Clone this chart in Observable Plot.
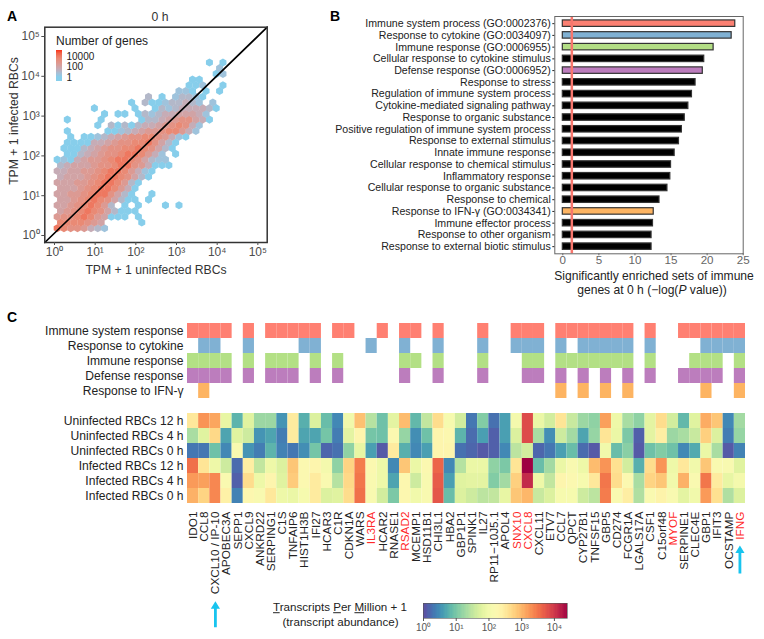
<!DOCTYPE html>
<html><head><meta charset="utf-8">
<script src="https://cdn.jsdelivr.net/npm/d3@7"></script>
<script src="https://cdn.jsdelivr.net/npm/@observablehq/plot@0.6"></script>
<style>
html,body{margin:0;padding:0;background:#fff}
#page{position:relative;width:764px;height:639px;overflow:hidden;font-family:"Liberation Sans",Arial,sans-serif}
.t{position:absolute;white-space:nowrap;line-height:1;color:#222}
</style></head><body><div id="page"></div>
<script>
/* ---------- Panel A: hexagonal bins, one string per hex row (bottom to top).
   Each character is a column; the digit is the colour level, 2 levels = 1 decade of genes. */
const hexRows = [
"87665321",
"7777654.....0",
"56678754000.0",
"456787642000",
"445678752.0.0...0.0",
"445678764200.0",
"445567886420..0",
"444567887530",
"4445567887520",
"34445678876420",
"334455678875310",
"23444566788653000",
"01034556788764211",
".002345667887531.0",
".00023456677876420",
".00003345667786420",
"..0.0012345667765310",
".0.....00123455677531",
"......0.20202334567631",
".0....0.....02234566430",
".......0.00.02123344431",
".....0.....0..0212333320",
"...........0.200122321.1",
".............2.0.12210",
"..................110.0.0",
"...................001..0",
"....................00",
".......................01",
"........................1",
"......................0.0"
];
const hexFirstX = 0.0656, hexStepX = 0.1664, hexFirstY = 0.184, hexStepY = 0.1436;
const hexColorLevels = [0,1,3,5,7,9,10];
const hexColorStops = ["#87CEEB","#9FC3DC","#C6ACB6","#DC9A93","#E98A75","#F2654A","#F83A20"];
const countTicks = [["10000",4],["100",2],["1",0]];
const decades = [1,10,100,1000,10000,100000];
const sup = ["⁰","¹","²","³","⁴","⁵"];
const decadeLabel = d => "10" + sup[Math.round(Math.log10(d))];

/* ---------- Panel B ---------- */
const setNames = ["Immune system process (GO:0002376)","Response to cytokine (GO:0034097)","Immune response (GO:0006955)","Cellular response to cytokine stimulus","Defense response (GO:0006952)","Response to stress","Regulation of immune system process","Cytokine-mediated signaling pathway","Response to organic substance","Positive regulation of immune system process","Response to external stimulus","Innate immune response","Cellular response to chemical stimulus","Inflammatory response","Cellular response to organic substance","Response to chemical","Response to IFN-γ (GO:0034341)","Immune effector process","Response to other organism","Response to external biotic stimulus"];
const setValues = [23.9,23.4,20.9,19.6,19.4,18.4,17.9,17.4,16.9,16.5,16.1,15.5,15.0,14.9,14.5,13.4,12.6,12.5,12.3,12.3];
const setFills = ["#FB8072","#80B1D3","#B3DE85","#000","#BC7DBD","#000","#000","#000","#000","#000","#000","#000","#000","#000","#000","#000","#FDB462","#000","#000","#000"];
const threshold = 1.25;

/* ---------- Panel C ---------- */
const genes = ["IDO1","CCL8","CXCL10 / IP-10","APOBEC3A","SEPP1","CXCL9","ANKRD22","SERPING1","C1S","TNFAIP6","HIST1H3B","IFI27","HCAR3","C1R","CDKN1A","WARS","IL3RA","HCAR2","RNASE1","RSAD2","MCEMP1","HSD11B1","CHI3L1","HBA2","GBP1P1","SPINK1","IL27","RP11−10J5.1","APOL4","SNX10","CXCL8","CXCL11","ETV7","CCL7","QPCT","CYP27B1","TNFSF15","GBP5","CD274","FCGR1A","LGALS17A","CSF1","C15orf48","MYOF","SERPINE1","CLEC4E","GBP1","IFIT3","OCSTAMP","IFNG"];
const redGenes = ["IL3RA","RSAD2","SNX10","CXCL8","MYOF","IFNG"];
const arrowGenes = ["CXCL10 / IP-10","IFNG"];
const annotNames = ["Immune system response","Response to cytokine","Immune response","Defense response","Response to IFN-γ"];
const annotFills = ["#FF8072","#80B1D3","#B3E085","#BC7DBD","#FDB462"];
const annotImmuneSystem = [0,1,2,3,5,7,8,9,10,11,13,14,17,19,20,22,26,29,30,31,33,34,35,36,37,38,39,41,44,45,46,47,48,49];
const annotCytokine = [1,2,5,10,11,16,19,22,26,29,30,31,33,35,36,37,38,39,41,46,47,48,49];
const annotImmune = [0,1,2,3,5,7,8,9,11,13,19,20,22,26,30,31,33,34,35,36,37,38,39,41,45,46,47,49];
const annotDefense = [0,1,2,3,5,7,8,9,11,13,19,22,26,30,31,33,35,37,39,41,44,45,46,47,49];
const annotIFN = [1,33,35,37,39,46,49];
const annotMembers = [annotImmuneSystem,annotCytokine,annotImmune,annotDefense,annotIFN];

const heatNames = ["Uninfected RBCs 12 h","Uninfected RBCs 4 h","Uninfected RBCs 0 h","Infected RBCs 12 h","Infected RBCs 4 h","Infected RBCs 0 h"];
/* abundance read as tenths along the colour bar (0 = 10^0, 10 = 10^4.4) */
const uninf12 = [5.7,7.4,7.1,4.2,1.8,4.0,2.8,2.8,1.2,5.6,1.7,3.9,2.0,1.0,4.5,6.6,3.2,2.1,4.1,6.7,1.9,3.4,6.0,4.7,3.7,0.7,2.4,0.6,1.4,4.6,8.7,4.3,3.7,5.8,3.5,2.8,2.6,7.2,4.4,3.0,2.6,4.1,6.0,3.7,1.9,4.0,7.0,6.5,1.0,2.9];
const uninf4 = [3.0,4.0,6.1,1.5,4.0,3.6,1.2,1.5,0.8,5.6,1.5,1.5,2.2,0.8,4.1,5.2,2.2,2.1,5.0,2.7,1.1,2.1,5.2,5.1,1.8,0.5,1.4,0.3,1.4,3.9,8.7,3.0,1.1,3.6,2.9,1.5,2.7,5.8,4.3,2.3,0.3,4.1,5.5,2.8,3.0,3.5,6.3,3.9,0.8,2.7];
const uninf0 = [0.7,0.7,2.1,1.0,4.8,1.2,0.8,1.8,0.9,0.7,1.1,2.2,0.4,0.6,2.6,4.2,1.4,0.2,5.6,1.7,1.0,1.4,5.2,5.2,0.6,0.4,0.2,0.3,1.0,3.3,3.7,0.4,0.7,1.4,2.0,0.5,0.2,4.5,2.0,2.5,0.2,2.1,2.4,2.1,1.0,1.6,4.3,3.0,0.2,0.9];
const inf12 = [8.0,5.8,4.4,3.6,0.5,5.5,3.4,4.4,3.9,6.5,5.0,5.2,4.6,2.6,6.2,7.8,5.0,4.4,1.0,6.5,4.3,5.0,8.2,1.0,3.2,4.3,4.3,2.6,2.3,5.8,10,2.0,2.9,4.3,4.8,4.4,6.7,7.4,5.9,3.7,1.7,6.0,7.4,4.4,5.7,4.5,6.5,4.9,4.8,4.0];
const inf4 = [7.3,7.2,7.6,4.9,0.3,6.0,4.4,5.2,4.0,6.4,5.0,5.6,4.9,3.2,6.1,7.9,4.9,4.4,1.5,5.1,3.6,4.8,8.4,1.4,4.0,4.1,4.1,2.4,2.9,6.3,9.3,4.4,3.4,5.2,5.0,4.7,5.7,7.9,6.0,5.0,3.0,6.2,6.5,4.5,6.9,4.9,7.9,5.6,4.2,4.6];
const inf0 = [6.9,6.2,7.6,5.4,0.9,5.1,4.8,5.7,4.4,4.3,4.7,5.6,3.9,4.0,6.0,8.0,4.8,3.7,2.3,5.1,4.5,4.8,8.5,2.0,3.9,3.6,3.3,3.4,4.2,6.5,6.8,3.5,3.9,4.7,4.7,3.6,3.3,7.8,4.9,5.5,3.1,4.9,5.3,4.8,4.1,4.5,7.3,5.9,3.1,3.9];
const heatSeries = [uninf12,uninf4,uninf0,inf12,inf4,inf0];

/* ---------- helpers ---------- */
const page = document.getElementById("page");
const FONT = '"Liberation Sans",Arial,sans-serif';
function place(svg,left,top){
  svg.style.position="absolute"; svg.style.left=left+"px"; svg.style.top=top+"px";
  svg.style.background="transparent"; svg.style.maxWidth="none";
  page.appendChild(svg); return svg;
}
function label(html,cx,cy,size,opts={}){
  const d=document.createElement("div"); d.className="t"; d.innerHTML=html;
  d.style.fontSize=size+"px"; d.style.left=cx+"px"; d.style.top=cy+"px";
  const a=opts.anchor||"center";
  const tx=a==="center"?"-50%":a==="start"?"0":"-100%";
  d.style.transform=`translate(${tx},-50%)`+(opts.rotate?` rotate(${opts.rotate}deg)`:"");
  if(opts.color)d.style.color=opts.color;
  if(opts.weight)d.style.fontWeight=opts.weight;
  page.appendChild(d); return d;
}

/* ---------- Panel A ---------- */
const hexCells=[];
hexRows.forEach((row,j)=>{ [...row].forEach((c,i)=>{ if(c==="."||c===" ")return;
  hexCells.push({x:10**(hexFirstX+hexStepX*(i+(j%2)/2)), y:10**(hexFirstY+hexStepY*j), level:+c}); }); });
const axDomain=[10**-0.2385,10**5.23], ayDomain=[10**-0.176,10**5.234];
const hexColor={type:"linear",domain:hexColorLevels,range:hexColorStops,interpolate:"rgb"};
place(Plot.plot({
  width:290,height:290,marginLeft:44.3,marginRight:23.3,marginTop:26.7,marginBottom:48,
  style:{fontFamily:FONT},
  x:{type:"log",domain:axDomain},y:{type:"log",domain:ayDomain},
  color:hexColor,
  marks:[
    Plot.dot(hexCells,{x:"x",y:"y",fill:"level",symbol:"hexagon",r:3.5}),
    Plot.line([[axDomain[0],ayDomain[0]],[axDomain[1],ayDomain[1]]],{x:d=>d[0],y:d=>d[1],stroke:"#000",strokeWidth:1.7}),
    Plot.frame({stroke:"#333",strokeWidth:1.5}),
    Plot.axisX({ticks:decades,tickFormat:decadeLabel,tickSize:3,tickPadding:2,fontSize:12,color:"#4d4d4d",label:null}),
    Plot.axisY({ticks:decades,tickFormat:decadeLabel,tickSize:3,tickPadding:2,fontSize:12,color:"#4d4d4d",label:null})
  ]
}),0,0);
/* count legend inside A */
const legendSteps=d3.range(-0.76,5.14,0.06);
place(Plot.plot({
  width:50,height:40,marginLeft:6,marginRight:38,marginTop:4,marginBottom:5,
  style:{fontFamily:FONT},
  x:{domain:[0,1],axis:null},y:{domain:[-0.76,5.14],axis:null},
  color:{...hexColor,clamp:true},
  marks:[
    Plot.rect(legendSteps,{x1:0,x2:1,y1:d=>d,y2:d=>d+0.07,fill:d=>d*2,shapeRendering:"crispEdges"}),
    Plot.text(countTicks,{x:1,y:d=>d[1],text:d=>d[0],dx:4,textAnchor:"start",fontSize:10,fill:"#222"})
  ]
}),50,46);
label("Number of genes",56,41,12,{anchor:"start"});
label("0 h",160,17,12.2,{color:"#333"});
label("TPM + 1 uninfected RBCs",156,270,12.2,{color:"#333"});
label("TPM + 1 infected RBCs",14,120.5,12.2,{color:"#333",rotate:-90});
label("A",7,16,14,{anchor:"start",weight:"bold",color:"#000"});

/* ---------- Panel B ---------- */
const setTable=setNames.map((name,i)=>({name,value:setValues[i],fill:setFills[i]}));
place(Plot.plot({
  width:444,height:300,marginLeft:234.3,marginRight:21.3,marginTop:16,marginBottom:46.7,
  style:{fontFamily:FONT},
  x:{domain:[-1.11,25]},
  y:{domain:setNames,paddingInner:0.45,paddingOuter:0.335,round:false},
  marks:[
    Plot.barX(setTable,{x:"value",y:"name",fill:"fill",stroke:"#333",strokeWidth:1.2}),
    Plot.ruleX([threshold],{stroke:"#F8766D",strokeWidth:2.5}),
    Plot.frame({stroke:"#666",strokeWidth:1}),
    Plot.axisX({ticks:[0,5,10,15,20,25],tickSize:2,tickPadding:0,fontSize:11.6,color:"#666",label:null}),
    Plot.axisY({tickSize:2,tickPadding:2,fontSize:10.6,color:"#222",label:null})
  ]
}),320,0);
label("Significantly enriched sets of immune",654,276,12.1);
label("genes at 0 h (−log(<i>P</i> value))",652,290,12.1);
label("B",330,15.5,14,{anchor:"start",weight:"bold",color:"#000"});

/* ---------- Panel C ---------- */
const spacer=" ";
const rowDomain=[...annotNames,spacer,...heatNames];
const annotCells=annotMembers.flatMap((m,r)=>m.map(c=>({gene:genes[c],row:annotNames[r],fill:annotFills[r]})));
const heatCells=heatSeries.flatMap((s,r)=>s.map((v,c)=>({gene:genes[c],row:heatNames[r],log:v*0.44})));
const spectral={type:"linear",scheme:"Spectral",reverse:true,domain:[0,4.4]};
const arrowShape={draw(c,l){const w=1.4,hw=4.6,hl=7.5;
  c.moveTo(-w,0);c.lineTo(w,0);c.lineTo(w,hl-l);c.lineTo(hw,hl-l);c.lineTo(0,-l);c.lineTo(-hw,hl-l);c.lineTo(-w,hl-l);c.closePath();}};
place(Plot.plot({
  width:764,height:334,marginLeft:187,marginRight:19,marginTop:18,marginBottom:136,
  style:{fontFamily:FONT},
  x:{type:"band",domain:genes,padding:0,axis:null,round:false},
  y:{type:"band",domain:rowDomain,padding:0,round:false},
  color:spectral,
  marks:[
    Plot.cell(annotCells,{x:"gene",y:"row",fill:d=>d.fill}),
    Plot.cell(heatCells,{x:"gene",y:"row",fill:"log"}),
    Plot.axisY({tickSize:0,tickPadding:4,fontSize:12.1,color:"#222",label:null}),
    Plot.text(genes,{x:d=>d,frameAnchor:"bottom",dy:8,rotate:-90,textAnchor:"end",lineAnchor:"middle",fontSize:11.8,
      fill:d=>redGenes.includes(d)?"#FF2A2A":"#222"}),
    Plot.vector([arrowGenes[0]],{x:d=>d,frameAnchor:"bottom",dy:123.7,length:26,rotate:0,anchor:"start",shape:arrowShape,fill:"#18C4EF",stroke:"none"}),
    Plot.vector([arrowGenes[1]],{x:d=>d,frameAnchor:"bottom",dy:70,length:28,rotate:0,anchor:"start",shape:arrowShape,fill:"#18C4EF",stroke:"none"})
  ]
}),0,305);
label("C",7,317,14,{anchor:"start",weight:"bold",color:"#000"});

/* colour bar */
const barSteps=d3.range(0,4.4,0.04);
place(Plot.plot({
  width:190,height:44,marginLeft:23,marginRight:23,marginTop:8,marginBottom:21,
  style:{fontFamily:FONT},
  x:{domain:[0,4.4]},y:{domain:[0,1],axis:null},
  color:spectral,
  marks:[
    Plot.rect(barSteps,{x1:d=>d,x2:d=>d+0.045,y1:0,y2:1,fill:d=>d,shapeRendering:"crispEdges"}),
    Plot.frame({stroke:"#555",strokeWidth:0.6}),
    Plot.axisX({ticks:[0,1,2,3,4],tickFormat:d=>"10"+sup[d],tickSize:3,tickPadding:2,fontSize:10,color:"#555",label:null})
  ]
}),400,595);
label("<u>T</u>ranscripts <u>P</u>er <u>M</u>illion + 1",340,607,11.6);
label("(transcript abundance)",340.5,621.5,11.6);
</script></body></html>
